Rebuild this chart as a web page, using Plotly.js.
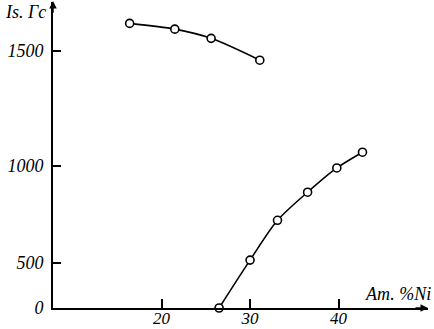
<!DOCTYPE html>
<html>
<head>
<meta charset="utf-8">
<script src="https://cdn.plot.ly/plotly-3.0.1.min.js"></script>
<style>
  html, body { margin: 0; padding: 0; background: #fff; }
  #chart { width: 434px; height: 329px; }
</style>
</head>
<body>
<div id="chart"></div>
<script>
// ---- data ----
const niUpper = [16.4, 21.5, 25.6, 31.1];          // at. % Ni
const isUpper = [1620, 1595, 1555, 1460];          // Is, Gs
const niLower = [26.5, 30.0, 33.1, 36.5, 39.8, 42.7];
const isLower = [0, 515, 720, 865, 990, 1060];

// ---- tick labels ----
const xTickVals = [20, 30, 40];
const xTickText = ['20', '30', '40'];
const yTickVals = [0, 500, 1000, 1500];
const yTickText = ['0', '500', '1000', '1500'];
// The original drawing's Is axis is not evenly spaced: these are the
// drawn heights of its tick marks, used as a piecewise-linear scale.
const yTickHeights = [0, 45, 142, 257];

function isScale(v) {
  const t = yTickVals, h = yTickHeights;
  let i = 0;
  while (i < t.length - 2 && v > t[i + 1]) i++;
  return h[i] + (v - t[i]) * (h[i + 1] - h[i]) / (t[i + 1] - t[i]);
}

const serif = '"Liberation Serif", "Times New Roman", serif';
const italic = s => '<i>' + s + '</i>';
const markerStyle = { symbol: 'circle', size: 8, color: '#fff', line: { color: '#000', width: 1.6 } };

const traces = [
  {
    x: niUpper, y: isUpper.map(isScale), mode: 'lines+markers', type: 'scatter',
    line: { color: '#000', width: 1.6, shape: 'spline', smoothing: 0.8 },
    marker: markerStyle, hoverinfo: 'skip'
  },
  {
    x: niLower, y: isLower.map(isScale), mode: 'lines+markers', type: 'scatter',
    line: { color: '#000', width: 1.6, shape: 'spline', smoothing: 0.8 },
    marker: markerStyle, hoverinfo: 'skip', cliponaxis: false
  }
];

const layout = {
  width: 434, height: 329,
  margin: { l: 53, r: 6, t: 2, b: 21 },
  paper_bgcolor: '#fff', plot_bgcolor: '#fff',
  showlegend: false,
  font: { family: serif, color: '#000' },
  xaxis: {
    range: [7.74, 50.1], showgrid: false, zeroline: false,
    showline: true, linecolor: '#000', linewidth: 2,
    tickmode: 'array', tickvals: xTickVals, ticktext: xTickText.map(italic),
    ticks: 'inside', ticklen: 9, tickwidth: 2, tickcolor: '#000',
    tickfont: { family: serif, size: 17, style: 'italic', color: '#000' },
    ticklabelstandoff: -6
  },
  yaxis: {
    range: [0, 306], showgrid: false, zeroline: false,
    showline: true, linecolor: '#000', linewidth: 2,
    tickmode: 'array', tickvals: yTickVals.map(isScale), ticktext: yTickText.map(italic),
    ticks: 'inside', ticklen: 8, tickwidth: 2, tickcolor: '#000',
    tickfont: { family: serif, size: 18, style: 'italic', color: '#000' },
    ticklabelstandoff: 4
  },
  annotations: [
    { xref: 'paper', yref: 'paper', x: -0.133, y: 1.006, xanchor: 'left', yanchor: 'top',
      text: italic('Is. Гс'), showarrow: false,
      font: { family: serif, size: 18, style: 'italic', color: '#000' } },
    { xref: 'paper', yref: 'paper', x: 1.013, y: 0.045, xanchor: 'right', yanchor: 'middle',
      text: italic('Ат. %Ni'), showarrow: false,
      font: { family: serif, size: 18, style: 'italic', color: '#000' } },
    { xref: 'paper', yref: 'paper', x: 1, y: 0, ax: -14, ay: 0, text: '',
      showarrow: true, arrowhead: 2, arrowsize: 1, arrowwidth: 1.5, arrowcolor: '#000' },
    { xref: 'paper', yref: 'paper', x: 0, y: 1.006, ax: 0, ay: 14, text: '',
      showarrow: true, arrowhead: 2, arrowsize: 1, arrowwidth: 1.5, arrowcolor: '#000' }
  ]
};

Plotly.newPlot('chart', traces, layout, { staticPlot: true, displayModeBar: false });
</script>
</body>
</html>
